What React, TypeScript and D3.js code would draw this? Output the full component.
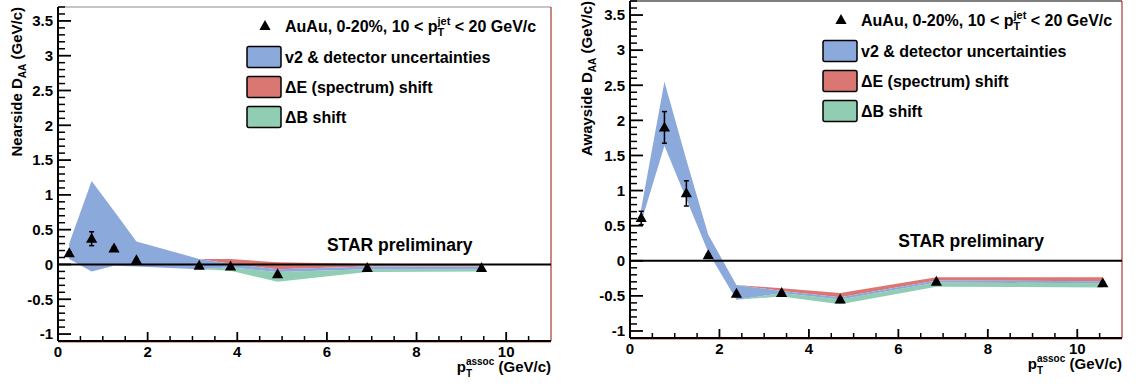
import React from "react";
import * as d3 from "d3";

// ---- data ----
const nearX = [0.25, 0.75, 1.25, 1.75, 3.15, 3.85, 4.9, 6.9, 9.45];
const nearY = [0.16, 0.37, 0.23, 0.06, -0.02, -0.03, -0.14, -0.05, -0.05];
const nearErr = [0.02, 0.1, 0.02, 0.02, 0.01, 0.01, 0.01, 0.01, 0.01];
const nearBlueHi = [0.3, 1.2, 0.77, 0.33, 0.08, 0.01, -0.07, -0.03, -0.03];
const nearBlueLo = [0.08, -0.1, -0.02, -0.03, -0.07, -0.04, -0.11, -0.07, -0.07];
const nearShiftX = [3.15, 3.85, 4.9, 6.9, 9.45];
const nearRedHi = [0.08, 0.08, 0.03, 0.01, 0.0];
const nearRedLo = [0.08, 0.01, -0.07, -0.03, -0.03];
const nearGreenHi = [-0.07, -0.04, -0.11, -0.07, -0.07];
const nearGreenLo = [-0.07, -0.09, -0.25, -0.11, -0.1];

const awayX = [0.25, 0.77, 1.26, 1.75, 2.38, 3.39, 4.7, 6.85, 10.57];
const awayY = [0.61, 1.9, 0.96, 0.08, -0.47, -0.46, -0.55, -0.3, -0.32];
const awayErr = [0.095, 0.225, 0.18, 0.02, 0.02, 0.02, 0.02, 0.02, 0.02];
const awayBlueHi = [0.74, 2.55, 1.44, 0.37, -0.345, -0.43, -0.52, -0.28, -0.29];
const awayBlueLo = [0.55, 1.64, 0.88, 0.12, -0.555, -0.46, -0.55, -0.31, -0.32];
const awayShiftX = [2.38, 3.39, 4.7, 6.85, 10.57];
const awayRedHi = [-0.345, -0.39, -0.46, -0.235, -0.235];
const awayRedLo = [-0.345, -0.43, -0.52, -0.28, -0.29];
const awayGreenHi = [-0.555, -0.46, -0.55, -0.31, -0.32];
const awayGreenLo = [-0.555, -0.51, -0.62, -0.37, -0.38];

const xTicks = [0, 2, 4, 6, 8, 10];
const yTicks = [-1, -0.5, 0, 0.5, 1, 1.5, 2, 2.5, 3, 3.5];
const legendLabels = ["v2 & detector uncertainties", "\u0394E (spectrum) shift", "\u0394B shift"];

const BLUE = "#8ca9dc";
const RED = "#da7773";
const GREEN = "#91cdb2";
const FONT = "'Liberation Sans', Arial, Helvetica, sans-serif";

type Band = { x: number; lo: number; hi: number };
const zipBand = (xs: number[], lo: number[], hi: number[]): Band[] =>
  xs.map((x, i) => ({ x, lo: lo[i], hi: hi[i] }));

type PanelProps = {
  x0: number; x1: number; yTop: number; yBot: number;
  topStroke: string; title: string; titleX: number; legendDx: number;
  px: number[]; py: number[]; perr: number[];
  blue: Band[]; red: Band[]; green: Band[];
};

function Triangle({ cx, cy }: { cx: number; cy: number }) {
  return <path d={`M${cx},${cy - 6}L${cx + 5.6},${cy + 4}L${cx - 5.6},${cy + 4}Z`} fill="#000" />;
}

function Panel(p: PanelProps) {
  const x = d3.scaleLinear().domain([0, 11]).range([p.x0, p.x1]);
  const y = d3.scaleLinear().domain([-1.1, 3.7]).range([p.yBot, p.yTop]);
  const area = d3.area<Band>().x(d => x(d.x)).y0(d => y(d.lo)).y1(d => y(d.hi));

  const yMinor = d3.range(-11, 38).map(v => v / 10).filter(v => Math.abs(v * 2 - Math.round(v * 2)) > 1e-6);
  const xMinor = d3.range(1, 22).map(v => v / 2).filter(v => v % 2 !== 0);

  const lx = p.x0 + p.legendDx;
  const rowY = [19, 50, 80, 110].map(v => p.yTop + v);

  return (
    <g fontFamily={FONT} fontWeight="bold">
      {/* bands */}
      <path d={area(p.red) || ""} fill={RED} />
      <path d={area(p.green) || ""} fill={GREEN} />
      <path d={area(p.blue) || ""} fill={BLUE} />

      {/* frame */}
      <line x1={p.x0} x2={p.x1} y1={p.yTop} y2={p.yTop} stroke={p.topStroke} strokeWidth={1.2} />
      <line x1={p.x1} x2={p.x1} y1={p.yTop} y2={p.yBot} stroke="#a33a32" strokeWidth={1.2} />
      <line x1={p.x0} x2={p.x1} y1={p.yBot + 1} y2={p.yBot + 1} stroke="#c0504a" strokeWidth={1} />

      {/* zero line */}
      <line x1={p.x0} x2={p.x1} y1={y(0)} y2={y(0)} stroke="#000" strokeWidth={2} />

      {/* axes */}
      <line x1={p.x0} x2={p.x0} y1={p.yTop} y2={p.yBot} stroke="#000" strokeWidth={2} />
      <line x1={p.x0} x2={p.x1} y1={p.yBot} y2={p.yBot} stroke="#000" strokeWidth={2} />
      {yTicks.map(v => (
        <g key={"yt" + v}>
          <line x1={p.x0} x2={p.x0 + 13} y1={y(v)} y2={y(v)} stroke="#000" strokeWidth={1.8} />
          <text x={p.x0 - 5} y={y(v) + 5.3} fontSize={15} textAnchor="end">{String(v)}</text>
        </g>
      ))}
      {yMinor.map(v => (
        <line key={"ym" + v} x1={p.x0} x2={p.x0 + 7} y1={y(v)} y2={y(v)} stroke="#000" strokeWidth={1.5} />
      ))}
      {xTicks.map(v => (
        <g key={"xt" + v}>
          <line x1={x(v)} x2={x(v)} y1={p.yBot} y2={p.yBot - 9} stroke="#000" strokeWidth={1.8} />
          <text x={x(v)} y={p.yBot + 16} fontSize={15} textAnchor="middle">{String(v)}</text>
        </g>
      ))}
      {xMinor.map(v => (
        <line key={"xm" + v} x1={x(v)} x2={x(v)} y1={p.yBot} y2={p.yBot - 5} stroke="#000" strokeWidth={1.5} />
      ))}

      {/* error bars + markers */}
      {p.px.map((v, i) => (
        <g key={"pt" + i}>
          <line x1={x(v)} x2={x(v)} y1={y(p.py[i] - p.perr[i])} y2={y(p.py[i] + p.perr[i])} stroke="#000" strokeWidth={1.5} />
          <line x1={x(v) - 2.5} x2={x(v) + 2.5} y1={y(p.py[i] - p.perr[i])} y2={y(p.py[i] - p.perr[i])} stroke="#000" strokeWidth={1.5} />
          <line x1={x(v) - 2.5} x2={x(v) + 2.5} y1={y(p.py[i] + p.perr[i])} y2={y(p.py[i] + p.perr[i])} stroke="#000" strokeWidth={1.5} />
          <Triangle cx={x(v)} cy={y(p.py[i])} />
        </g>
      ))}

      {/* STAR preliminary */}
      <text x={x(6.0)} y={y(0.2)} fontSize={17.5}>STAR preliminary</text>

      {/* axis titles */}
      <text transform={`translate(${p.titleX},${p.yTop}) rotate(-90)`} textAnchor="end" fontSize={15}>
        {p.title} D<tspan fontSize={10} dy={4}>AA</tspan><tspan fontSize={15} dy={-4}>{"  (GeV/c)"}</tspan>
      </text>
      <text x={p.x1} y={p.yBot + 31} textAnchor="end" fontSize={15}>
        p<tspan fontSize={10} dy={-7}>assoc</tspan>
        <tspan fontSize={10} dx={-28.4} dy={12}>T</tspan>
        <tspan fontSize={15} dx={22.3} dy={-5}>{" (GeV/c)"}</tspan>
      </text>

      {/* legend */}
      <Triangle cx={lx + 18} cy={rowY[0]} />
      <text x={lx + 38} y={rowY[0] + 5.6} fontSize={16}>
        AuAu, 0-20%, 10 {"<"} p<tspan fontSize={11} dy={-7}>jet</tspan>
        <tspan fontSize={11} dx={-12.8} dy={11}>T</tspan>
        <tspan fontSize={16} dx={6.1} dy={-4}>{" < 20 GeV/c"}</tspan>
      </text>
      {[BLUE, RED, GREEN].map((c, i) => (
        <g key={"lg" + i}>
          <rect x={lx} y={rowY[i + 1] - 10.5} width={34} height={21} rx={2} fill={c} stroke="#000" strokeWidth={1.5} />
          <text x={lx + 38} y={rowY[i + 1] + 5.6} fontSize={16}>{legendLabels[i]}</text>
        </g>
      ))}
    </g>
  );
}

export default function App() {
  return (
    <svg width={1137} height={385} style={{ position: "absolute", left: 0, top: 0, background: "#fff" }}>
      <rect width={1137} height={385} fill="#fff" />
      <Panel
        x0={58} x1={551} yTop={7} yBot={341} topStroke="#8c8c8c" title="Nearside" titleX={22} legendDx={189}
        px={nearX} py={nearY} perr={nearErr}
        blue={zipBand(nearX, nearBlueLo, nearBlueHi)}
        red={zipBand(nearShiftX, nearRedLo, nearRedHi)}
        green={zipBand(nearShiftX, nearGreenLo, nearGreenHi)}
      />
      <Panel
        x0={630} x1={1122} yTop={1} yBot={338} topStroke="#000" title="Awayside" titleX={592} legendDx={193}
        px={awayX} py={awayY} perr={awayErr}
        blue={zipBand(awayX, awayBlueLo, awayBlueHi)}
        red={zipBand(awayShiftX, awayRedLo, awayRedHi)}
        green={zipBand(awayShiftX, awayGreenLo, awayGreenHi)}
      />
    </svg>
  );
}
